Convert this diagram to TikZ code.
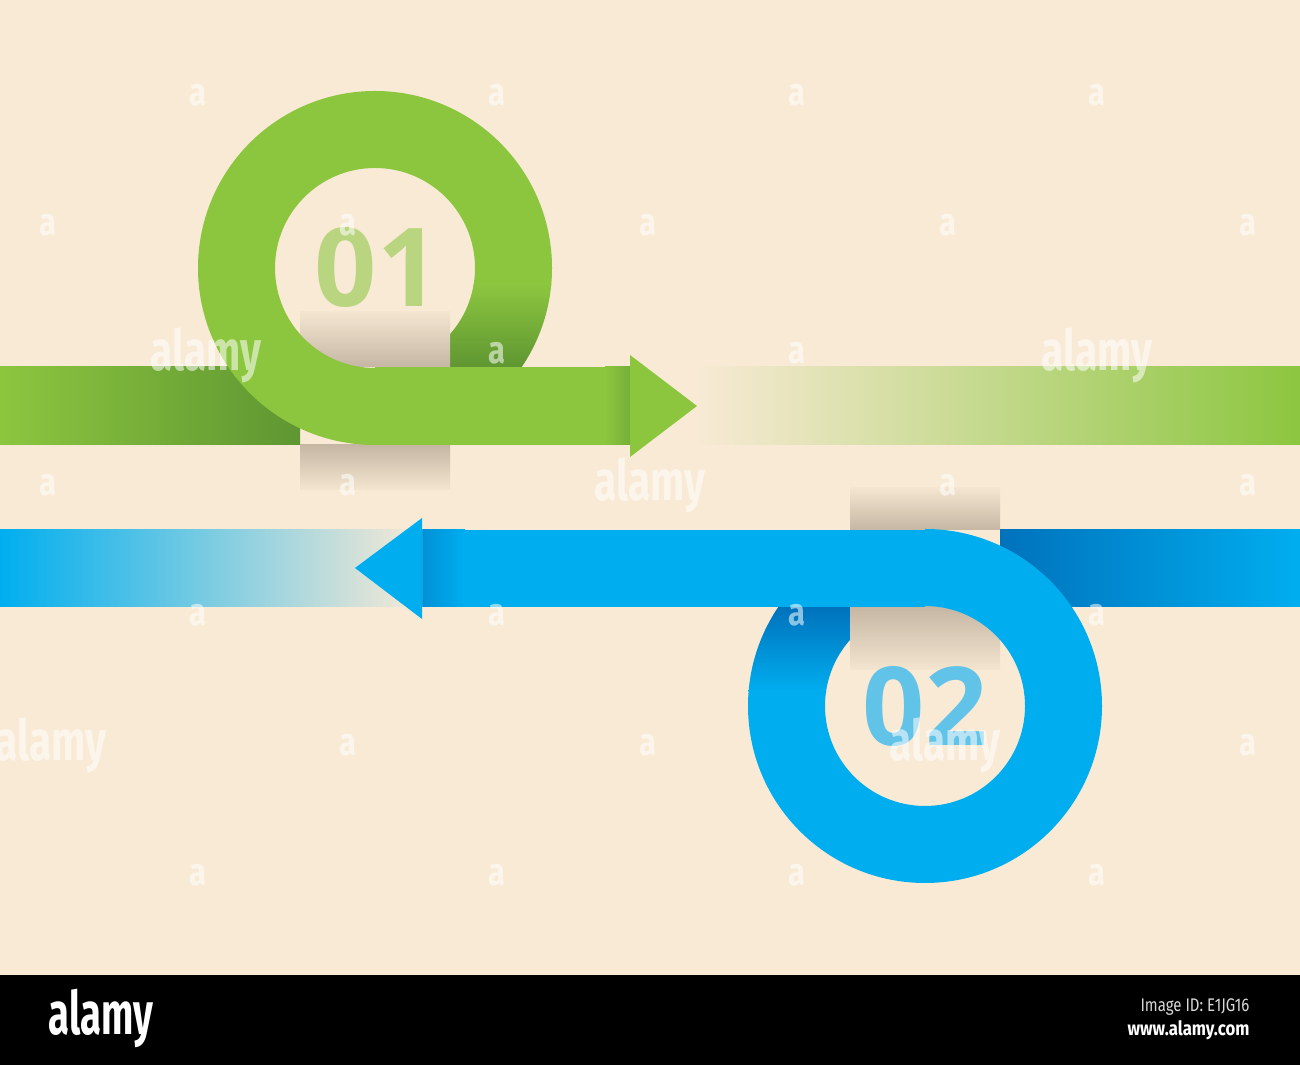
\documentclass[tikz,border=0pt]{standalone}
\usepackage{fontspec}
\newfontfamily\numfont{Open Sans}
\newfontfamily\wmfont{Fira Sans}
\definecolor{bg}{HTML}{F8EAD5}
\definecolor{grn}{HTML}{8CC63F}
\definecolor{grndk}{HTML}{5F9632}
\definecolor{grnsh}{HTML}{76AE38}
\definecolor{grntxt}{HTML}{BAD580}
\definecolor{blu}{HTML}{00AEEF}
\definecolor{bludk}{HTML}{0072BC}
\definecolor{blush}{HTML}{0090D6}
\definecolor{blutxt}{HTML}{62C3E8}
\definecolor{tablt}{HTML}{F3E5D0}
\definecolor{tabdk}{HTML}{C5B7A3}
\tikzset{
  wma/.style={text=white, opacity=0.55, inner sep=0pt, xscale=0.8, font=\wmfont\bfseries\fontsize{11}{11}\selectfont},
  wmword/.style={text=white, opacity=0.55, inner sep=0pt, xscale=0.72, font=\wmfont\bfseries\fontsize{16}{16}\selectfont},
  numtxt/.style={inner sep=0pt, font=\numfont\bfseries\fontsize{31}{31}\selectfont},
  tabtop/.style={top color=tablt, bottom color=tabdk},
  tabbot/.style={top color=tabdk, bottom color=tablt}
}
\begin{document}
\begin{tikzpicture}[x=0.01cm,y=-0.01cm]
\useasboundingbox (0,0) rectangle (1300,1065);
\fill[bg] (0,0) rectangle (1300,976);
\fill[black] (0,975) rectangle (1300,1065);

% ---------------- green ribbon ----------------
\shade[left color=grn, right color=grndk] (0,367) rectangle (300,445);
\begin{scope}
  \clip (375,268) rectangle (600,470);
  \begin{scope}[even odd rule]
  \clip (375,268) circle[radius=177] (375,268) circle[radius=100];
  \fill[grn] (375,260) rectangle (560,286);
  \shade[top color=grn, bottom color=grndk] (375,285) rectangle (560,367);
  \end{scope}
\end{scope}
\shade[tabtop] (300,312) rectangle (450,367);
\shade[tabbot] (300,445) rectangle (450,490);
\begin{scope}
  \clip (150,50) -- (600,50) -- (600,268) -- (375,268) -- (375,470) -- (150,470) -- cycle;
  \fill[grn, even odd rule] (375,268) circle[radius=177] (375,268) circle[radius=100];
\end{scope}
\fill[grn] (375,367) rectangle (631,445);
\shade[left color=grn, right color=grnsh] (605,367) rectangle (631,445);
\shade[left color=bg, right color=grn] (697,367) rectangle (1300,445);
\fill[grn] (630,355) -- (697,406) -- (630,457) -- cycle;
\node[numtxt, text=grntxt] (n1) at (377,268) {01};

% ---------------- blue ribbon ----------------
\shade[left color=bludk, right color=blu] (1000,530) rectangle (1300,607);
\begin{scope}
  \clip (700,500) rectangle (925,706);
  \begin{scope}[even odd rule]
  \clip (925,706) circle[radius=177] (925,706) circle[radius=100];
  \shade[top color=bludk, bottom color=blu] (700,607) rectangle (925,692);
  \fill[blu] (700,691) rectangle (925,710);
  \end{scope}
\end{scope}
\shade[tabtop] (850,488) rectangle (1000,530);
\shade[tabbot] (850,607) rectangle (1000,670);
\begin{scope}
  \clip (1150,930) -- (700,930) -- (700,706) -- (925,706) -- (925,500) -- (1150,500) -- cycle;
  \fill[blu, even odd rule] (925,706) circle[radius=177] (925,706) circle[radius=100];
\end{scope}
\fill[blu] (421,530) rectangle (925,607);
\shade[left color=blush, right color=blu] (421,530) rectangle (465,607);
\shade[left color=blu, right color=bg] (0,530) rectangle (422,607);
\fill[blu] (422,518) -- (355,568) -- (422,619) -- cycle;
\node[numtxt, text=blutxt] (n2) at (925,707) {02};

% ---------------- watermarks ----------------
\foreach \i/\x/\y in {a1/198/95, a2/497/95, a3/797/95, a4/1097/95,
  a5/48/225, a6/348/225, a7/648/225, a8/948/225, a9/1248/225,
  a10/497/353, a11/797/353,
  a12/48/485, a13/348/485, a14/948/485, a15/1248/485,
  a16/198/615, a17/497/615, a18/797/615, a19/1097/615,
  a20/348/745, a21/648/745, a22/1248/745,
  a23/198/875, a24/497/875, a25/797/875, a26/1097/875}
  \node[wma] (\i) at (\x,\y) {a};
\foreach \i/\x/\y in {w1/206/355, w2/1097/355, w3/650/485, w4/51/745, w5/945/745}
  \node[wmword] (\i) at (\x,\y) {alamy};

% ---------------- footer ----------------
\node[text=white, inner sep=0pt, xscale=0.64, font=\wmfont\bfseries\fontsize{17}{17}\selectfont] (logo) at (101,1018) {alamy};
\node[text=white!85!black, inner sep=0pt, anchor=east, xscale=0.82, font=\wmfont\fontsize{5.2}{5.2}\selectfont] (imgid) at (1250,1007) {Image ID: E1JG16};
\node[text=white, inner sep=0pt, anchor=east, xscale=0.85, font=\wmfont\bfseries\fontsize{5.6}{5.6}\selectfont] (url) at (1250,1030) {www.alamy.com};
\end{tikzpicture}
\end{document}
